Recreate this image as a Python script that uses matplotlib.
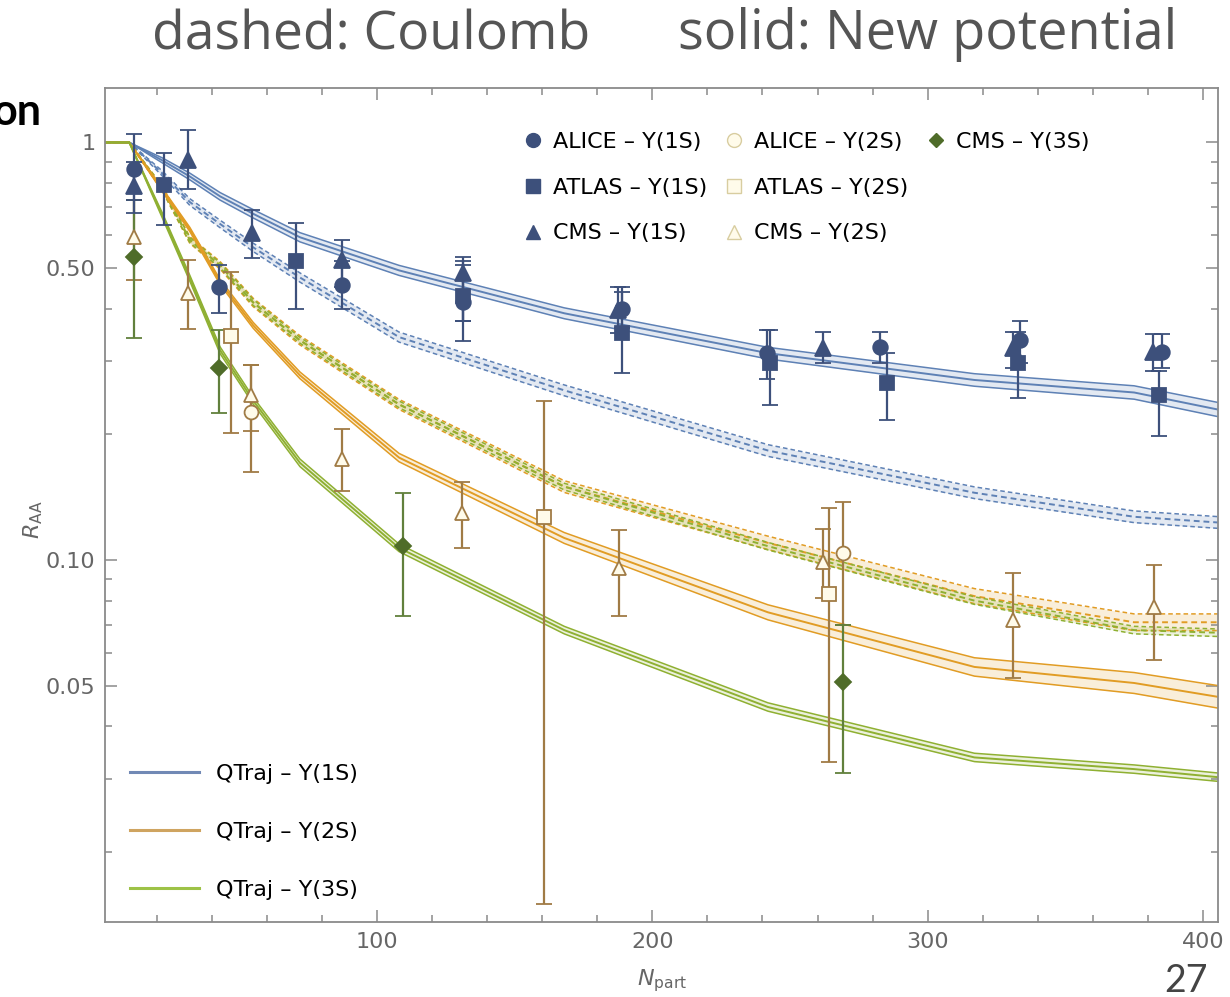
import matplotlib
matplotlib.use("Agg")
import matplotlib.pyplot as plt
import numpy as np
from matplotlib.lines import Line2D
from matplotlib.ticker import FixedLocator, NullFormatter

# ── model curves (QTraj), common N_part grid ────────────────────────────────
npart_grid = [1.2, 10, 22, 32, 43, 55, 72, 108, 168, 242, 317, 375, 406]

r1s_new = [1.0, 1.0, 0.906, 0.829, 0.743, 0.675, 0.593, 0.494, 0.390, 0.313, 0.270, 0.252, 0.229]
r2s_new = [1.0, 1.0, 0.770, 0.619, 0.463, 0.365, 0.277, 0.176, 0.113, 0.075, 0.0555, 0.0508, 0.047]
r3s_new = [1.0, 1.0, 0.669, 0.473, 0.318, 0.241, 0.171, 0.107, 0.068, 0.0445, 0.0337, 0.0316, 0.0302]
r1s_coul = [1.0, 1.0, 0.843, 0.720, 0.638, 0.561, 0.475, 0.342, 0.255, 0.183, 0.145, 0.127, 0.123]
r2s_coul = [1.0, 1.0, 0.776, 0.584, 0.508, 0.414, 0.336, 0.236, 0.150, 0.110, 0.082, 0.071, 0.071]
r3s_coul = [1.0, 1.0, 0.776, 0.584, 0.508, 0.414, 0.336, 0.236, 0.150, 0.108, 0.080, 0.068, 0.067]

# band half-widths (decades)
w1s_new = [0, 0, 0.006, 0.008, 0.009, 0.010, 0.011, 0.012, 0.013, 0.014, 0.015, 0.016, 0.017]
w2s_new = [0, 0, 0.004, 0.005, 0.006, 0.007, 0.008, 0.010, 0.013, 0.018, 0.022, 0.025, 0.027]
w3s_new = [0, 0, 0.006, 0.007, 0.008, 0.008, 0.009, 0.009, 0.009, 0.010, 0.010, 0.010, 0.010]
w1s_coul = [0, 0, 0.006, 0.008, 0.009, 0.010, 0.011, 0.012, 0.013, 0.014, 0.014, 0.014, 0.014]
w2s_coul = [0, 0, 0.006, 0.008, 0.009, 0.010, 0.011, 0.012, 0.014, 0.016, 0.018, 0.020, 0.020]
w3s_coul = [0, 0, 0.005, 0.006, 0.006, 0.007, 0.007, 0.008, 0.008, 0.009, 0.009, 0.009, 0.009]

# ── data: N_part, R_AA, lower, upper ─────────────────────────────────────────
alice1s_n = [11.7, 42.6, 87.3, 131.2, 189.0, 241.6, 282.7, 333.6, 385.2]
alice1s_r = [0.866, 0.450, 0.455, 0.414, 0.400, 0.314, 0.323, 0.336, 0.315]
alice1s_lo = [0.73, 0.39, 0.40, 0.373, 0.36, 0.272, 0.296, 0.296, 0.289]
alice1s_hi = [1.05, 0.51, 0.52, 0.51, 0.45, 0.355, 0.351, 0.373, 0.347]

atlas1s_n = [22.6, 70.6, 131.2, 189.0, 242.7, 285.3, 332.8, 384.1]
atlas1s_r = [0.793, 0.519, 0.430, 0.349, 0.296, 0.265, 0.296, 0.249]
atlas1s_lo = [0.633, 0.399, 0.334, 0.281, 0.235, 0.216, 0.244, 0.198]
atlas1s_hi = [0.946, 0.640, 0.520, 0.438, 0.355, 0.314, 0.351, 0.283]

cms1s_n = [11.7, 31.3, 54.6, 87.3, 131.2, 187.5, 262.0, 331.0, 381.9]
cms1s_r = [0.785, 0.910, 0.606, 0.522, 0.486, 0.396, 0.322, 0.322, 0.315]
cms1s_lo = [0.676, 0.772, 0.528, 0.45, 0.373, 0.35, 0.297, 0.289, 0.283]
cms1s_hi = [0.90, 1.074, 0.691, 0.583, 0.531, 0.45, 0.351, 0.351, 0.347]

alice2s_n = [54.2, 269.3]
alice2s_r = [0.226, 0.104]
alice2s_lo = [0.163, 0.070]
alice2s_hi = [0.294, 0.138]

atlas2s_n = [47.0, 160.7, 264.2]
atlas2s_r = [0.345, 0.127, 0.083]
atlas2s_lo = [0.202, 0.0150, 0.0329]
atlas2s_hi = [0.489, 0.241, 0.133]

cms2s_n = [11.7, 31.3, 54.2, 87.3, 130.9, 187.9, 262.0, 331.0, 382.2]
cms2s_r = [0.593, 0.435, 0.249, 0.175, 0.130, 0.096, 0.099, 0.072, 0.0774]
cms2s_lo = [0.468, 0.357, 0.204, 0.146, 0.107, 0.0735, 0.081, 0.0522, 0.0577]
cms2s_hi = [0.727, 0.522, 0.294, 0.206, 0.154, 0.118, 0.119, 0.093, 0.0974]

cms3s_n = [11.7, 42.6, 109.4, 269.3]
cms3s_r = [0.533, 0.289, 0.108, 0.051]
cms3s_lo = [0.34, 0.225, 0.0736, 0.031]
cms3s_hi = [0.73, 0.355, 0.145, 0.070]

BLUE, ORANGE, GREEN = "#5e81b5", "#e19c24", "#8fb032"
NAVY, BROWN, OLIVE = "#3d507b", "#a07b45", "#4f6c29"
CREAM = "#fffbea"
GRAY = "#8a8a8a"
FS = 16

fig = plt.figure(figsize=(12.3, 9.97), dpi=100)
ax = fig.add_axes([0.0854, 0.0752, 0.9049, 0.8365])


def band(n, r, w, color, ls):
    r = np.asarray(r); w = np.asarray(w)
    lo, hi = r * 10 ** (-w), r * 10 ** w
    ax.fill_between(n, lo, hi, color=color, alpha=0.17, lw=0, zorder=1)
    for y in (lo, hi):
        ax.plot(n, y, color=color, lw=1.1, ls=ls, zorder=2)
    ax.plot(n, r, color=color, lw=1.4, ls=ls, zorder=2)


dash = (0, (3, 2))
band(npart_grid, r1s_coul, w1s_coul, BLUE, dash)
band(npart_grid, r2s_coul, w2s_coul, ORANGE, dash)
band(npart_grid, r3s_coul, w3s_coul, GREEN, dash)
band(npart_grid, r1s_new, w1s_new, BLUE, "-")
band(npart_grid, r2s_new, w2s_new, ORANGE, "-")
band(npart_grid, r3s_new, w3s_new, GREEN, "-")


def data(n, r, lo, hi, marker, ms, fc, ec, bar):
    r = np.asarray(r)
    yerr = [r - np.asarray(lo), np.asarray(hi) - r]
    ax.errorbar(n, r, yerr=yerr, fmt=marker, ms=ms, mfc=fc, mec=ec, mew=1.3,
                ecolor=bar, elinewidth=1.6, capsize=5.5, capthick=1.6, zorder=4)


data(atlas2s_n, atlas2s_r, atlas2s_lo, atlas2s_hi, "s", 9.5, CREAM, BROWN, BROWN)
data(cms2s_n, cms2s_r, cms2s_lo, cms2s_hi, "^", 10.5, CREAM, BROWN, BROWN)
data(alice2s_n, alice2s_r, alice2s_lo, alice2s_hi, "o", 10, CREAM, BROWN, BROWN)
data(cms3s_n, cms3s_r, cms3s_lo, cms3s_hi, "D", 8.5, OLIVE, OLIVE, "#61803c")
data(atlas1s_n, atlas1s_r, atlas1s_lo, atlas1s_hi, "s", 9.5, NAVY, NAVY, NAVY)
data(alice1s_n, alice1s_r, alice1s_lo, alice1s_hi, "o", 10.5, NAVY, NAVY, NAVY)
data(cms1s_n, cms1s_r, cms1s_lo, cms1s_hi, "^", 11, NAVY, NAVY, NAVY)

# ── axes ─────────────────────────────────────────────────────────────────────
ax.set_yscale("log")
ax.set_xlim(1.2, 405.5)
ax.set_ylim(0.0136, 1.35)
ax.yaxis.set_major_locator(FixedLocator([0.05, 0.1, 0.5, 1]))
ax.set_yticklabels(["0.05", "0.10", "0.50", "1"])
ax.yaxis.set_minor_locator(FixedLocator([0.02, 0.03, 0.04, 0.06, 0.07, 0.08, 0.09,
                                         0.2, 0.3, 0.4, 0.6, 0.7, 0.8, 0.9]))
ax.yaxis.set_minor_formatter(NullFormatter())
ax.set_xticks([100, 200, 300, 400])
ax.xaxis.set_minor_locator(FixedLocator([20, 40, 60, 80, 120, 140, 160, 180, 220, 240,
                                         260, 280, 320, 340, 360, 380]))
ax.tick_params(which="both", direction="in", top=True, right=True, color=GRAY,
               width=1.1, labelsize=FS, labelcolor="#666666", pad=7)
ax.tick_params(which="major", length=8.5)
ax.tick_params(which="minor", length=5)
for s in ax.spines.values():
    s.set_color(GRAY); s.set_linewidth(1.3)

ax.set_xlabel(r"$N_{\mathrm{part}}$", fontsize=FS, color="#666666", labelpad=11)
ax.set_ylabel(r"$R_{\mathrm{AA}}$", fontsize=FS, color="#666666")
ax.yaxis.set_label_coords(-0.054, 0.482)

# ── legends ──────────────────────────────────────────────────────────────────
pale = "#d8cda0"
h_data = [
    Line2D([], [], ls="none", marker="o", ms=10, mfc=NAVY, mec=NAVY),
    Line2D([], [], ls="none", marker="s", ms=9.5, mfc=NAVY, mec=NAVY),
    Line2D([], [], ls="none", marker="^", ms=10.5, mfc=NAVY, mec=NAVY),
    Line2D([], [], ls="none", marker="o", ms=10, mfc=CREAM, mec=pale),
    Line2D([], [], ls="none", marker="s", ms=9.5, mfc=CREAM, mec=pale),
    Line2D([], [], ls="none", marker="^", ms=10.5, mfc=CREAM, mec=pale),
    Line2D([], [], ls="none", marker="D", ms=7.5, mfc=OLIVE, mec=OLIVE),
    Line2D([], [], ls="none"),
    Line2D([], [], ls="none"),
]
l_data = ["ALICE – Υ(1S)", "ATLAS – Υ(1S)", "CMS – Υ(1S)",
          "ALICE – Υ(2S)", "ATLAS – Υ(2S)", "CMS – Υ(2S)", "CMS – Υ(3S)", " ", " "]
leg1 = ax.legend(h_data, l_data, ncol=3, loc="upper left", bbox_to_anchor=(0.3765, 0.947),
                 frameon=False, fontsize=FS, handlelength=0.8, handletextpad=0.5,
                 columnspacing=0.82, labelspacing=1.15, borderpad=0, borderaxespad=0)
ax.add_artist(leg1)

h_model = [Line2D([], [], color=c, lw=2.2) for c in ("#7189b5", "#cfa460", "#9dc247")]
l_model = ["QTraj – Υ(1S)", "QTraj – Υ(2S)", "QTraj – Υ(3S)"]
ax.legend(h_model, l_model, loc="upper left", bbox_to_anchor=(0.0225, 0.190),
          frameon=False, fontsize=FS, handlelength=3.1, handletextpad=0.75,
          labelspacing=1.72, borderpad=0, borderaxespad=0)

# ── slide text ───────────────────────────────────────────────────────────────
fig.text(152 / 1230, 1 - 49 / 997, "dashed: Coulomb", family="Open Sans", size=38.5,
         color="#555555", va="baseline")
fig.text(678 / 1230, 1 - 49 / 997, "solid: New potential", family="Open Sans", size=39,
         color="#555555", va="baseline")
fig.text(42 / 1230, 1 - 125 / 997, "on", family="Lato", weight="bold", size=31,
         color="black", ha="right", va="baseline")
fig.text(1208 / 1230, 1 - 992 / 997, "27", family="Lato", size=27,
         color="#444444", ha="right", va="baseline")

fig.savefig("out.png", dpi=100)
